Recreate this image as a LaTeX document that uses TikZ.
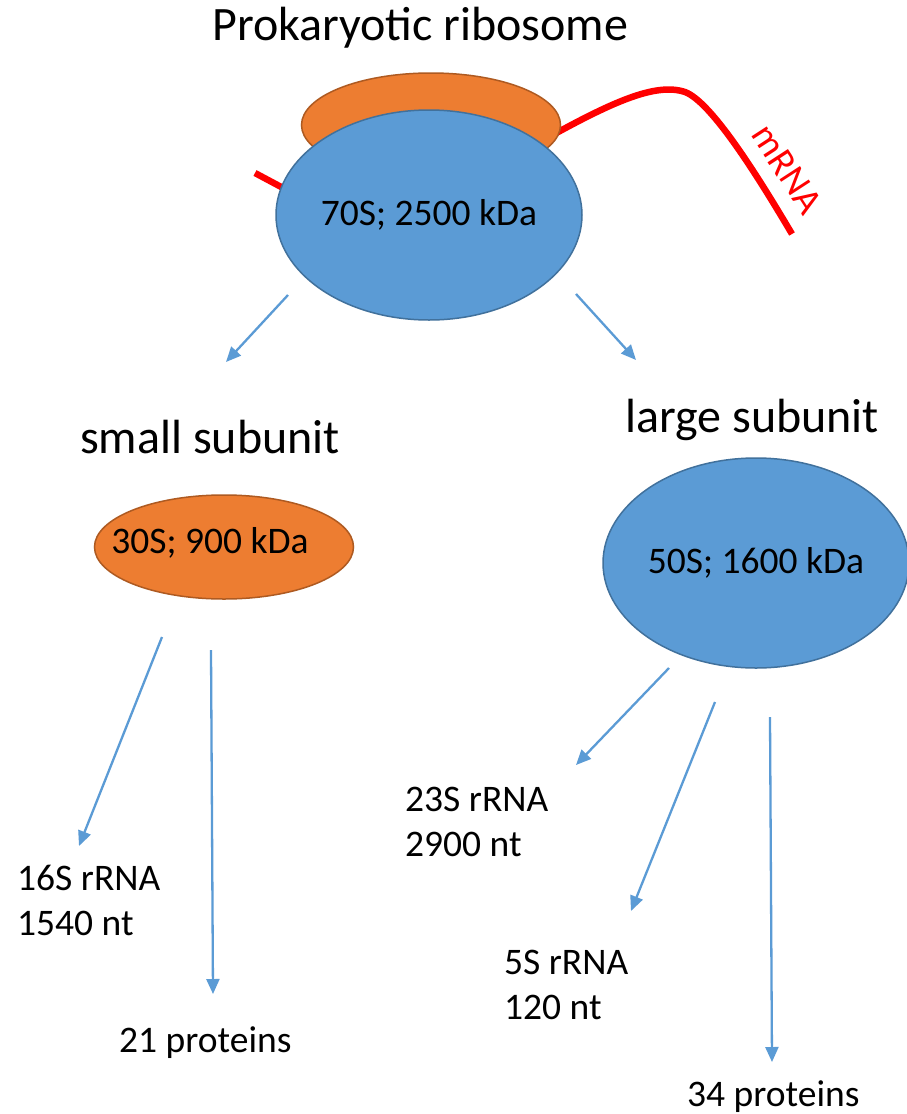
\documentclass[tikz,border=0pt]{standalone}
\usepackage{fontspec}
\setmainfont{Carlito}
\usetikzlibrary{shapes.geometric,arrows.meta}
\definecolor{cblue}{HTML}{5B9BD5}
\definecolor{cblueline}{HTML}{41719C}
\definecolor{corange}{HTML}{ED7D31}
\definecolor{corangeline}{HTML}{AE5A21}
\definecolor{cred}{HTML}{FF0000}
\tikzset{
  bigtext/.style={font=\fontsize{48}{57}\selectfont, inner sep=0pt},
  lbltext/.style={font=\fontsize{37.5}{45}\selectfont, inner sep=0pt, align=left},
  blueblob/.style={ellipse, draw=cblueline, fill=cblue, line width=1.5pt, inner sep=0pt,
    font=\fontsize{37.5}{45}\selectfont},
  orangeblob/.style={ellipse, draw=corangeline, fill=corange, line width=1.5pt, inner sep=0pt,
    font=\fontsize{37.5}{45}\selectfont},
  rnaline/.style={draw=cred, line width=6.5pt},
  splitarrow/.style={draw=cblue, line width=2.3pt, -{Triangle[length=15pt,width=13pt]}}
}
\begin{document}
\begin{tikzpicture}[x=1pt,y=-1pt]
\useasboundingbox (0,0) rectangle (906,1114);
\fill[white] (0,0) rectangle (906,1114);

% title
\node[bigtext, anchor=base west] (title) at (212,40) {Prokaryotic ribosome};

% mRNA
\coordinate (rnaL1) at (255,173);
\coordinate (rnaL2) at (315,205);
\coordinate (rnaR1) at (540,142);
\coordinate (rnaR2) at (792,234);
\draw[rnaline] (rnaL1) -- (rnaL2);
\draw[rnaline] (rnaR1) .. controls (610,103) and (655,82) .. (685,92)
  .. controls (712,102) and (760,180) .. (rnaR2);
\node[text=cred, font=\fontsize{38}{44}\selectfont, inner sep=0pt, rotate=-57] (mrna) at (787,169) {mRNA};

% 70S ribosome
\node[orangeblob, minimum width=259pt, minimum height=104pt] (small70) at (431,125) {};
\node[blueblob, minimum width=306pt, minimum height=210pt] (r70) at (429,215) {70S; 2500 kDa};

% split arrows from 70S
\coordinate (a1s) at (288,295); \coordinate (a1e) at (226,362);
\coordinate (a2s) at (576,294); \coordinate (a2e) at (636,360);
\draw[splitarrow] (a1s) -- (a1e);
\draw[splitarrow] (a2s) -- (a2e);

% subunit titles
\node[bigtext, anchor=base west] (smalltitle) at (80,453) {small subunit};
\node[bigtext, anchor=base west] (largetitle) at (625,432) {large subunit};

% 30S
\node[orangeblob, minimum width=259pt, minimum height=104pt] (s30) at (224,547) {};
\node[lbltext] (t30) at (210,543) {30S; 900 kDa};

% 50S
\node[blueblob, minimum width=302pt, minimum height=210pt] (l50) at (756,563) {50S; 1600 kDa};

% arrows from 30S
\coordinate (a3s) at (162,637); \coordinate (a3e) at (79,846);
\coordinate (a4s) at (211,650); \coordinate (a4e) at (213,994);
\draw[splitarrow] (a3s) -- (a3e);
\draw[splitarrow] (a4s) -- (a4e);

% arrows from 50S
\coordinate (a5s) at (669,668); \coordinate (a5e) at (576,765);
\coordinate (a6s) at (715,702); \coordinate (a6e) at (631,911);
\coordinate (a7s) at (770,717); \coordinate (a7e) at (772,1062);
\draw[splitarrow] (a5s) -- (a5e);
\draw[splitarrow] (a6s) -- (a6e);
\draw[splitarrow] (a7s) -- (a7e);

% component labels
\node[lbltext, anchor=north west] (l16) at (17,865) {16S rRNA\\1540 nt};
\node[lbltext, anchor=base west] (l21) at (119,1052) {21 proteins};
\node[lbltext, anchor=north west] (l23) at (405,787) {23S rRNA\\2900 nt};
\node[lbltext, anchor=north west] (l5) at (504,950) {5S rRNA\\120 nt};
\node[lbltext, anchor=base west] (l34) at (687,1106) {34 proteins};
\end{tikzpicture}
\end{document}
